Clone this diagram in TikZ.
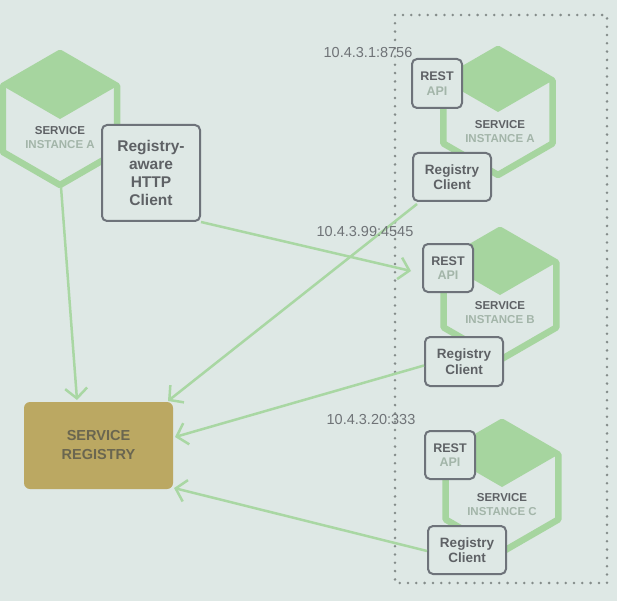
\documentclass[tikz,border=0pt]{standalone}
\usepackage{fontspec}
\setmainfont{Liberation Sans}
\usetikzlibrary{arrows.meta}
\definecolor{bgc}{HTML}{DEE8E5}
\definecolor{hexg}{HTML}{A6D59F}
\definecolor{arrg}{HTML}{A9D7A3}
\definecolor{boxc}{HTML}{6E737A}
\definecolor{darkt}{HTML}{5E6165}
\definecolor{lightt}{HTML}{A3B5A9}
\definecolor{regf}{HTML}{BBA862}
\definecolor{regt}{HTML}{6A6650}
\definecolor{ipc}{HTML}{6F7377}
\definecolor{dotc}{HTML}{848C8A}
\newcommand{\hexshape}[3]{%
  \begin{scope}[shift={(#1,#2)}]
    \fill[hexg] (0,-#3) -- (0.866*#3,-0.5*#3) -- (0,0) -- (-0.866*#3,-0.5*#3) -- cycle;
    \draw[hexg,line width=6.5pt,line join=round]
      (0,-#3) -- (0.866*#3,-0.5*#3) -- (0.866*#3,0.5*#3) -- (0,#3)
      -- (-0.866*#3,0.5*#3) -- (-0.866*#3,-0.5*#3) -- cycle;
  \end{scope}}
\begin{document}
\begin{tikzpicture}[x=1pt,y=-1pt,
  gbox/.style={draw=boxc,line width=2pt,rounded corners=5pt,fill=bgc,align=center,inner sep=0pt},
  hextext/.style={align=center,font=\bfseries\fontsize{11.5}{14}\selectfont,text=darkt},
  arr/.style={arrg,line width=2.5pt,-{Straight Barb[length=10pt,width=22pt,line width=2.5pt]}},
  iplabel/.style={font=\fontsize{14.5}{16}\selectfont,text=ipc,inner sep=0pt}]
\useasboundingbox (0,0) rectangle (617,601);
\fill[bgc] (0,0) rectangle (617,601);
% dotted frame
\draw[dotc,line width=2.8pt,line cap=round,dash pattern=on 0pt off 8.3pt] (395,15) rectangle (607,583);
% hexagons
\hexshape{60}{119}{66}
\hexshape{498}{112}{63}
\hexshape{500}{295}{65}
\hexshape{502}{487}{65}
% hexagon texts
\node[hextext] (hexL) at (60,138) {SERVICE\\\textcolor{lightt}{INSTANCE A}};
\node[hextext] (hexA) at (500,132) {SERVICE\\\textcolor{lightt}{INSTANCE A}};
\node[hextext] (hexB) at (500,313) {SERVICE\\\textcolor{lightt}{INSTANCE B}};
\node[hextext] (hexC) at (502,505) {SERVICE\\\textcolor{lightt}{INSTANCE C}};
% coordinates
\coordinate (hexLb) at (61,187);
\coordinate (t1) at (77,400);
\coordinate (t2) at (168,401);
\coordinate (t3) at (411,271);
\coordinate (t4) at (175,437);
\coordinate (t5) at (174,488);
% boxes
\node[gbox,minimum width=98pt,minimum height=96pt,font=\bfseries\fontsize{15.5}{18}\selectfont,text=darkt] (httpc) at (151,173) {Registry-\\aware\\HTTP\\Client};
\node[gbox,minimum width=50pt,minimum height=49pt,font=\bfseries\fontsize{12.5}{14.5}\selectfont,text=darkt] (restA) at (437,83.5) {REST\\\textcolor{lightt}{API}};
\node[gbox,minimum width=50pt,minimum height=48pt,font=\bfseries\fontsize{12.5}{14.5}\selectfont,text=darkt] (restB) at (448,268) {REST\\\textcolor{lightt}{API}};
\node[gbox,minimum width=50pt,minimum height=48pt,font=\bfseries\fontsize{12.5}{14.5}\selectfont,text=darkt] (restC) at (450,455) {REST\\\textcolor{lightt}{API}};
\node[gbox,minimum width=78pt,minimum height=48pt,font=\bfseries\fontsize{13.5}{15.5}\selectfont,text=darkt] (rcA) at (452,177) {Registry\\Client};
\node[gbox,minimum width=78pt,minimum height=49pt,font=\bfseries\fontsize{13.5}{15.5}\selectfont,text=darkt] (rcB) at (464,361.5) {Registry\\Client};
\node[gbox,minimum width=78pt,minimum height=48pt,font=\bfseries\fontsize{13.5}{15.5}\selectfont,text=darkt] (rcC) at (467,550) {Registry\\Client};
\node[fill=regf,rounded corners=6pt,minimum width=149pt,minimum height=87pt,align=center,inner sep=0pt,font=\bfseries\fontsize{14.5}{19}\selectfont,text=regt] (sr) at (98.5,445.5) {SERVICE\\REGISTRY};
% connectors
\draw[arr] (hexLb) -- (t1);
\draw[arr] ([shift={(5pt,-2pt)}]rcA.south west) -- (t2);
\draw[arr] (httpc.south east) -- (t3);
\draw[arr] ([shift={(0pt,-4pt)}]rcB.west) -- (t4);
\draw[arr] ([shift={(0pt,-1pt)}]rcC.west) -- (t5);
% ip labels
\node[iplabel] (ip1) at (368,53) {10.4.3.1:8756};
\node[iplabel] (ip2) at (365,232) {10.4.3.99:4545};
\node[iplabel] (ip3) at (371,420) {10.4.3.20:333};
\end{tikzpicture}
\end{document}
